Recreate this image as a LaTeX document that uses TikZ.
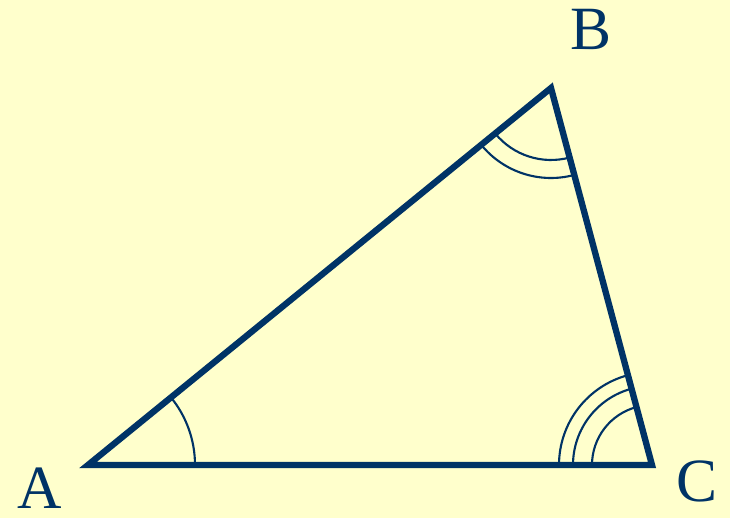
\documentclass[tikz,border=0pt]{standalone}
\usepackage{fontspec}
\setmainfont{Liberation Serif}
\usetikzlibrary{calc}
\definecolor{paper}{HTML}{FFFFCC}
\definecolor{navy}{HTML}{003366}
\tikzset{
  side/.style={draw=navy, line width=3.6pt, line join=miter},
  arcmark/.style={draw=navy, line width=1.2pt},
  vlabel/.style={font=\fontsize{35}{40}\selectfont, text=navy, inner sep=0pt}}
\begin{document}
\begin{tikzpicture}
  \fill[paper] (0,0) rectangle (14.6,10.36);
  \useasboundingbox (0,0) rectangle (14.6,10.36);
  \coordinate (A) at (1.76,1.06);
  \coordinate (B) at (11.02,8.6);
  \coordinate (C) at (13.04,1.06);
  % angle marks
  \draw[arcmark] (A) ++(0:2.14) arc[start angle=0, end angle=39.16, radius=2.14];
  \foreach \r in {1.44,1.8}
    \draw[arcmark] (B) ++(219.16:\r) arc[start angle=219.16, end angle=285.14, radius=\r];
  \foreach \r in {1.2,1.58,1.86}
    \draw[arcmark] (C) ++(105.14:\r) arc[start angle=105.14, end angle=180, radius=\r];
  % triangle
  \draw[side] (A) -- (B) -- (C) -- cycle;
  \node[vlabel] (la) at (0.8,0.6) {A};
  \node[vlabel] (lb) at (11.82,9.78) {B};
  \node[vlabel] (lc) at (13.94,0.74) {C};
\end{tikzpicture}
\end{document}
